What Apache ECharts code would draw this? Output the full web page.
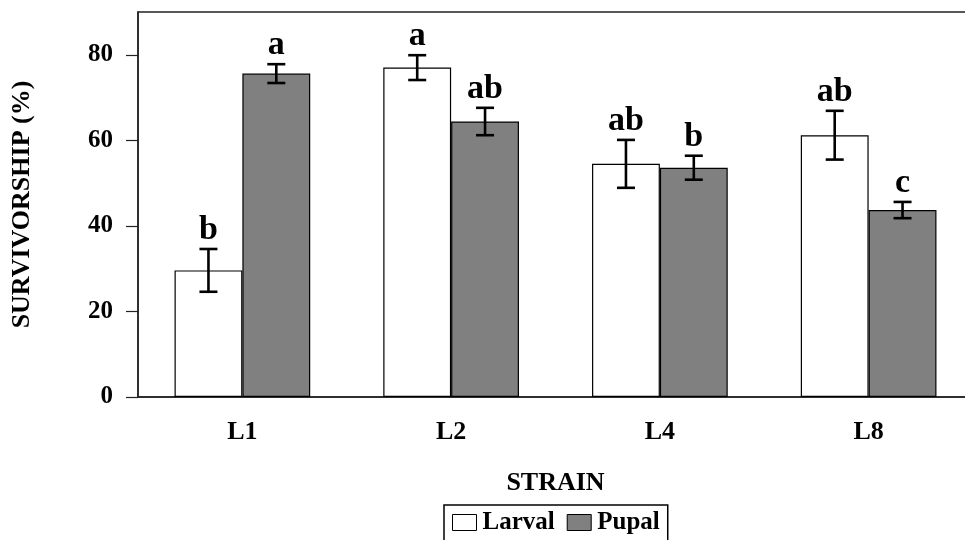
<!DOCTYPE html>
<html>
<head>
<meta charset="utf-8">
<script src="https://cdn.jsdelivr.net/npm/echarts@6/dist/echarts.min.js"></script>
<style>
  html, body { margin: 0; padding: 0; background: #fff; }
  #chart { width: 965px; height: 540px; }
</style>
</head>
<body>
<div id="chart"></div>
<script>
// data
const strains = ['L1', 'L2', 'L4', 'L8']
const larval = [29.6, 77.0, 54.5, 61.2]
const larvalErr = [5.0, 2.9, 5.6, 5.7]
const larvalLetters = ['b', 'a', 'ab', 'ab']
const pupal = [75.6, 64.4, 53.6, 43.7]
const pupalErr = [2.2, 3.2, 2.8, 1.9]
const pupalLetters = ['a', 'ab', 'b', 'c']
const yTicks = [0, 20, 40, 60, 80]

const FONT = '"Liberation Serif", "Times New Roman", serif'
const BAR_FRAC = 0.325 // one bar's share of a category band

// error bar + significance letter for one series
const errorSeries = (vals, errs, letters, side) => ({
  type: 'custom',
  silent: true,
  z: 5,
  data: vals.map((v, i) => [i, v, errs[i]]),
  renderItem: (params, api) => {
    const band = api.size([1, 0])[0]
    const x = api.coord([api.value(0), 0])[0] + side * band * BAR_FRAC / 2
    const top = api.coord([0, api.value(1) + api.value(2)])[1]
    const bot = api.coord([0, api.value(1) - api.value(2)])[1]
    const half = 9
    const st = { stroke: '#000', lineWidth: 2.6 }
    return {
      type: 'group',
      children: [
        { type: 'line', shape: { x1: x, y1: top, x2: x, y2: bot }, style: st },
        { type: 'line', shape: { x1: x - half, y1: top, x2: x + half, y2: top }, style: st },
        { type: 'line', shape: { x1: x - half, y1: bot, x2: x + half, y2: bot }, style: st },
        {
          type: 'text',
          x: x, y: top - 2,
          style: {
            text: letters[params.dataIndex],
            fontFamily: FONT,
            fontWeight: 'bold',
            fontSize: 34,
            fill: '#000',
            align: 'center',
            verticalAlign: 'bottom'
          }
        }
      ]
    }
  }
})

const chart = echarts.init(document.getElementById('chart'))
chart.setOption({
  animation: false,
  textStyle: { fontFamily: FONT },
  grid: {
    show: true,
    left: 138,
    top: 12,
    right: -8,
    bottom: 143,
    outerBoundsMode: 'none',
    borderColor: '#222',
    borderWidth: 1.5
  },
  legend: {
    data: ['Larval', 'Pupal'],
    top: 505,
    left: 444,
    icon: 'rect',
    itemWidth: 24,
    itemHeight: 16,
    itemGap: 12,
    padding: [5, 8, 10, 8],
    borderColor: '#000',
    borderWidth: 1.5,
    itemStyle: { borderColor: '#000', borderWidth: 1 },
    textStyle: { fontFamily: FONT, fontWeight: 'bold', fontSize: 25, color: '#000', padding: [0, 0, 0, 1] }
  },
  xAxis: {
    type: 'category',
    data: strains,
    name: 'STRAIN',
    nameLocation: 'middle',
    nameGap: 73,
    nameTextStyle: { fontFamily: FONT, fontWeight: 'bold', fontSize: 26, color: '#000' },
    axisLine: { lineStyle: { color: '#222', width: 1.5 } },
    axisTick: { alignWithLabel: true, length: 12, lineStyle: { color: '#222', width: 1.2 } },
    axisLabel: { margin: 22, fontFamily: FONT, fontWeight: 'bold', fontSize: 26, color: '#000' }
  },
  yAxis: {
    type: 'value',
    min: 0,
    max: 90,
    interval: 20,
    name: 'SURVIVORSHIP (%)',
    nameLocation: 'middle',
    nameGap: 103,
    nameTextStyle: { fontFamily: FONT, fontWeight: 'bold', fontSize: 26, color: '#000' },
    splitLine: { show: false },
    axisLine: { show: true, lineStyle: { color: '#222', width: 1.5 } },
    axisTick: { show: true, length: 12, customValues: yTicks, lineStyle: { color: '#222', width: 1.2 } },
    axisLabel: {
      margin: 25,
      customValues: yTicks,
      fontFamily: FONT, fontWeight: 'bold', fontSize: 25, color: '#000'
    }
  },
  series: [
    {
      name: 'Larval',
      type: 'bar',
      data: larval,
      barGap: '0%',
      barCategoryGap: '35%',
      itemStyle: { color: '#fff', borderColor: '#000', borderWidth: 1.2 }
    },
    {
      name: 'Pupal',
      type: 'bar',
      data: pupal,
      barGap: '0%',
      barCategoryGap: '35%',
      itemStyle: { color: '#808080', borderColor: '#000', borderWidth: 1.2 }
    },
    errorSeries(larval, larvalErr, larvalLetters, -1),
    errorSeries(pupal, pupalErr, pupalLetters, 1)
  ]
})
</script>
</body>
</html>
